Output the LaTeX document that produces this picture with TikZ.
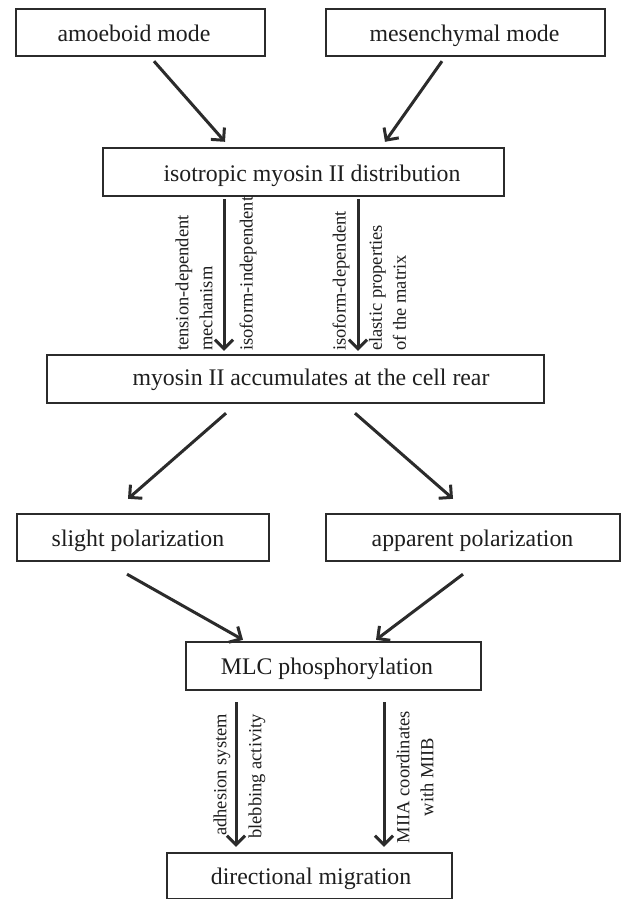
\documentclass[tikz,border=0pt]{standalone}
\usepackage{fontspec}
\setmainfont{Liberation Serif}
\usetikzlibrary{arrows.meta}
\definecolor{ln}{HTML}{2B2B2B}
\definecolor{tx}{HTML}{1E1E1E}
\begin{document}
\begin{tikzpicture}[x=1pt,y=-1pt,
  box/.style={draw=ln,line width=2.4pt,rectangle,inner sep=0pt},
  btxt/.style={anchor=base,inner sep=0pt,text=tx,font=\fontsize{23.8}{27}\selectfont},
  arr/.style={draw=ln,line width=3pt,-{Straight Barb[length=9pt,width=18pt]}},
  lab/.style={rotate=90,inner sep=0pt,text=tx,font=\fontsize{18.5}{24}\selectfont},
]
\useasboundingbox (0,0) rectangle (622,899);
\fill[white] (0,0) rectangle (622,899);
% boxes
\node[box,minimum width=249pt,minimum height=47pt] (b1) at (140.5,32.5) {};
\node[box,minimum width=279pt,minimum height=47pt] (b2) at (465.5,32.5) {};
\node[box,minimum width=401pt,minimum height=48pt] (b3) at (303.5,172) {};
\node[box,minimum width=497pt,minimum height=48pt] (b4) at (295.5,379) {};
\node[box,minimum width=252pt,minimum height=47pt] (b5) at (143,537.5) {};
\node[box,minimum width=294pt,minimum height=47pt] (b6) at (473,537.5) {};
\node[box,minimum width=295pt,minimum height=48pt] (b7) at (333.5,666) {};
\node[box,minimum width=285pt,minimum height=46pt] (b8) at (309.5,876) {};
% box texts
\node[btxt] (t1) at (134,42) {amoeboid mode};
\node[btxt] (t2) at (464.5,42) {mesenchymal mode};
\node[btxt] (t3) at (312,181.5) {isotropic myosin II distribution};
\node[btxt] (t4) at (311,385.5) {myosin II accumulates at the cell rear};
\node[btxt] (t5) at (138,546) {slight polarization};
\node[btxt] (t6) at (472.5,546.5) {apparent polarization};
\node[btxt] (t7) at (327,674) {MLC phosphorylation};
\node[btxt] (t8) at (311,884) {directional migration};
% arrows
\draw[arr] ([xshift=13.5pt,yshift=-4pt]b1.south) -- ([xshift=-78.5pt,yshift=5pt]b3.north);
\draw[arr] ([xshift=-23.5pt,yshift=-4pt]b2.south) -- ([xshift=81.5pt,yshift=5pt]b3.north);
\draw[arr] ([xshift=-79.5pt,yshift=-2pt]b3.south) -- ([xshift=-71.5pt,yshift=3pt]b4.north);
\draw[arr] ([xshift=54.5pt,yshift=-2pt]b3.south) -- ([xshift=62.5pt,yshift=3pt]b4.north);
\draw[arr] ([xshift=-69.5pt,yshift=-9pt]b4.south) -- ([xshift=-15pt,yshift=14pt]b5.north);
\draw[arr] ([xshift=59.5pt,yshift=-9pt]b4.south) -- ([xshift=-20pt,yshift=14pt]b6.north);
\draw[arr] ([xshift=-16pt,yshift=-12pt]b5.south) -- ([xshift=-90.5pt,yshift=1pt]b7.north);
\draw[arr] ([xshift=-10pt,yshift=-12pt]b6.south) -- ([xshift=42.5pt,yshift=1pt]b7.north);
\draw[arr] ([xshift=-97.5pt,yshift=-11pt]b7.south) -- ([xshift=-73.5pt,yshift=5pt]b8.north);
\draw[arr] ([xshift=50.5pt,yshift=-11pt]b7.south) -- ([xshift=74.5pt,yshift=5pt]b8.north);
% labels
\node[lab,anchor=west,align=left] (l1) at (194,351) {tension-dependent\\mechanism};
\node[lab,anchor=west] (l2) at (248,351) {isoform-independent};
\node[lab,anchor=west] (l3) at (341,351) {isoform-dependent};
\node[lab,anchor=west,align=left] (l4) at (387.5,351) {elastic properties\\of the matrix};
\node[lab,anchor=west] (l5) at (222,836) {adhesion system};
\node[lab,anchor=west] (l6) at (257,839) {blebbing activity};
\node[lab,align=center] (l7) at (415,777) {MIIA coordinates\\with MIIB};
\end{tikzpicture}
\end{document}
